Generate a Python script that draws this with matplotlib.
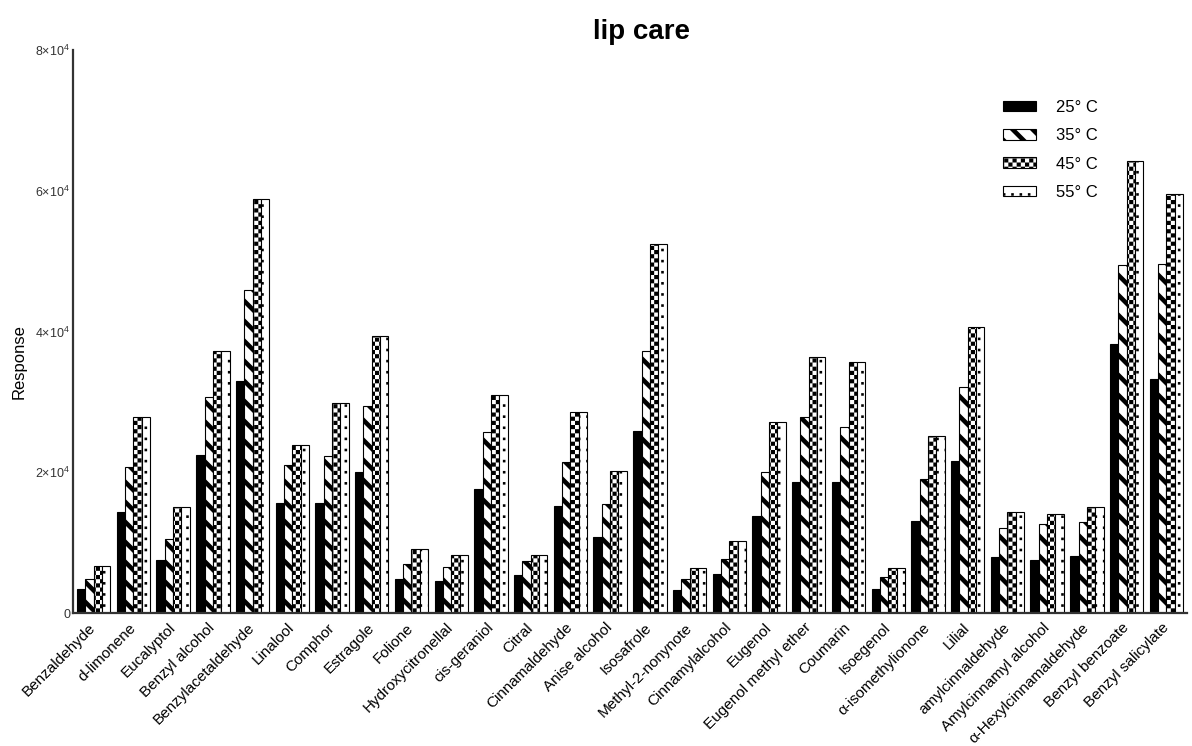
import numpy as np
import matplotlib
matplotlib.use("Agg")
import matplotlib.pyplot as plt
import matplotlib.hatch as mhatch
from matplotlib.path import Path

# ---------------------------------------------------------------- data
compounds = [
    "Benzaldehyde", "d-limonene", "Eucalyptol", "Benzyl alcohol",
    "Benzylacetaldehyde", "Linalool", "Comphor", "Estragole", "Folione",
    "Hydroxycitronellal", "cis-geraniol", "Citral", "Cinnamaldehyde",
    "Anise alcohol", "Isosafrole", "Methyl-2-nonynote", "Cinnamylalcohol",
    "Eugenol", "Eugenol methyl ether", "Coumarin", "Isoegenol",
    "α-isomethylionone", "Lilial", "amylcinnaldehyde",
    "Amylcinnamyl alcohol", "α-Hexylcinnamaldehyde", "Benzyl benzoate",
    "Benzyl salicylate",
]
temperatures = ["25° C", "35° C", "45° C", "55° C"]

resp_25 = [3400, 14300, 7500, 22500, 32900, 15700, 15700, 20000, 4800,
           4600, 17600, 5400, 15200, 10800, 25900, 3300, 5500, 13800,
           18600, 18600, 3400, 13100, 21600, 8000, 7600, 8100, 38200, 33200]
resp_35 = [4800, 20700, 10500, 30700, 45900, 21000, 22300, 29400, 6900,
           6500, 25700, 7400, 21400, 15500, 37300, 4800, 7700, 20000,
           27900, 26400, 5100, 19000, 32100, 12100, 12600, 13000, 49400, 49600]
resp_45 = [6650, 27900, 15000, 37200, 58800, 23900, 29900, 39300, 9100,
           8300, 31000, 8300, 28500, 20200, 52400, 6400, 10300, 27100,
           36400, 35700, 6400, 25100, 40600, 14400, 14000, 15000, 64200, 59600]
resp_55 = [6650, 27900, 15000, 37200, 58800, 23900, 29900, 39300, 9100,
           8300, 31000, 8300, 28500, 20200, 52400, 6400, 10300, 27100,
           36400, 35700, 6400, 25100, 40600, 14400, 14000, 15000, 64200, 59600]

y_ticks = [0, 20000, 40000, 60000, 80000]
y_tick_labels = ["0", r"$\mathregular{2×10^4}$", r"$\mathregular{4×10^4}$",
                 r"$\mathregular{6×10^4}$", r"$\mathregular{8×10^4}$"]


# ------------------------------------------------------- fill patterns
class _FilledTiles(mhatch.HatchPatternBase):
    """Hatch made of closed quadrilaterals that are filled, not stroked."""
    char = None

    def __init__(self, hatch, density):
        self.polys = self.build() if hatch.count(self.char) else []
        self.num_vertices = 5 * len(self.polys)

    def build(self):
        return []

    def set_vertices_and_codes(self, vertices, codes):
        for k, poly in enumerate(self.polys):
            vertices[5 * k:5 * k + 4] = poly
            vertices[5 * k + 4] = poly[0]
            codes[5 * k] = Path.MOVETO
            codes[5 * k + 1:5 * k + 4] = Path.LINETO
            codes[5 * k + 4] = Path.CLOSEPOLY


class SlantBands(_FilledTiles):
    """Thick bands running from upper left to lower right."""
    char = "O"
    n = 5
    t = 0.065

    def build(self):
        polys = []
        for k in range(0, 2 * self.n + 2):
            c = k / self.n
            polys.append([(0, c), (1, c - 1), (1, c - 1 + self.t), (0, c + self.t)])
        return polys


class Checker(_FilledTiles):
    """Checkerboard of small filled squares."""
    char = "o"
    n = 24

    def build(self):
        s = 1.0 / self.n
        polys = []
        for i in range(self.n):
            for j in range(self.n):
                if (i + j) % 2 == 0:
                    x0, y0 = i * s, j * s
                    polys.append([(x0, y0), (x0 + s, y0), (x0 + s, y0 + s), (x0, y0 + s)])
        return polys


class DotColumns(_FilledTiles):
    """Sparse small square dots."""
    char = "*"
    cols = 12
    rows = 9
    d = 0.026

    def build(self):
        polys = []
        for i in range(self.cols):
            for j in range(self.rows):
                cx, cy = (i + 0.5) / self.cols, (j + 0.5) / self.rows
                h = self.d / 2
                polys.append([(cx - h, cy - h), (cx + h, cy - h),
                              (cx + h, cy + h), (cx - h, cy + h)])
        return polys


mhatch._hatch_types = [t for t in mhatch._hatch_types
                       if t not in (mhatch.SmallCircles, mhatch.LargeCircles,
                                    mhatch.Stars)]
mhatch._hatch_types += [SlantBands, Checker, DotColumns]

# ------------------------------------------------------------- styling
plt.rcParams["font.family"] = ["Liberation Sans", "DejaVu Sans"]
plt.rcParams["mathtext.fontset"] = "custom"
plt.rcParams["mathtext.rm"] = "Liberation Sans"
plt.rcParams["hatch.linewidth"] = 0.0
plt.rcParams["hatch.color"] = "black"

fig = plt.figure(figsize=(11.92, 7.46), dpi=100)
ax = fig.add_axes([73 / 1192, 1 - 613 / 746, 1114 / 1192, 563 / 746])

series = [resp_25, resp_35, resp_45, resp_55]
faces = ["black", "white", "white", "white"]
hatches = [None, "O", "o", "*"]

x = np.arange(len(compounds))
w = 0.21
for k, (vals, fc, hp, lab) in enumerate(zip(series, faces, hatches, temperatures)):
    ax.bar(x + (k - 1.5) * w, vals, width=w, color=fc, edgecolor="black",
           linewidth=0.8, hatch=hp, label=lab)

ax.set_xlim(-0.52, len(compounds) - 0.48)
ax.set_ylim(0, 80000)
ax.set_yticks(y_ticks)
ax.set_yticklabels(y_tick_labels, fontsize=9, color="#333333")
ax.set_xticks(x)
ax.set_xticklabels(compounds, rotation=45, ha="right", va="center",
                   rotation_mode="anchor", fontsize=11)
ax.tick_params(axis="both", length=0)
ax.tick_params(axis="y", pad=2)
ax.tick_params(axis="x", pad=9)

for side in ("top", "right"):
    ax.spines[side].set_visible(False)
for side in ("left", "bottom"):
    ax.spines[side].set_linewidth(1.6)
    ax.spines[side].set_color("#333333")

ax.set_ylabel("Response", fontsize=12)
ax.yaxis.set_label_coords(-0.042, 0.446)
ax.set_title("lip care", fontsize=20, fontweight="bold", pad=8, x=0.51)

ax.legend(loc="upper left", bbox_to_anchor=(1003 / 1192, 1 - 100 / 746),
          bbox_transform=fig.transFigure, frameon=False, fontsize=12,
          handlelength=2.0, handleheight=0.6, handletextpad=1.2,
          labelspacing=0.8, borderpad=0, borderaxespad=0)

fig.savefig("out.png", dpi=100)
